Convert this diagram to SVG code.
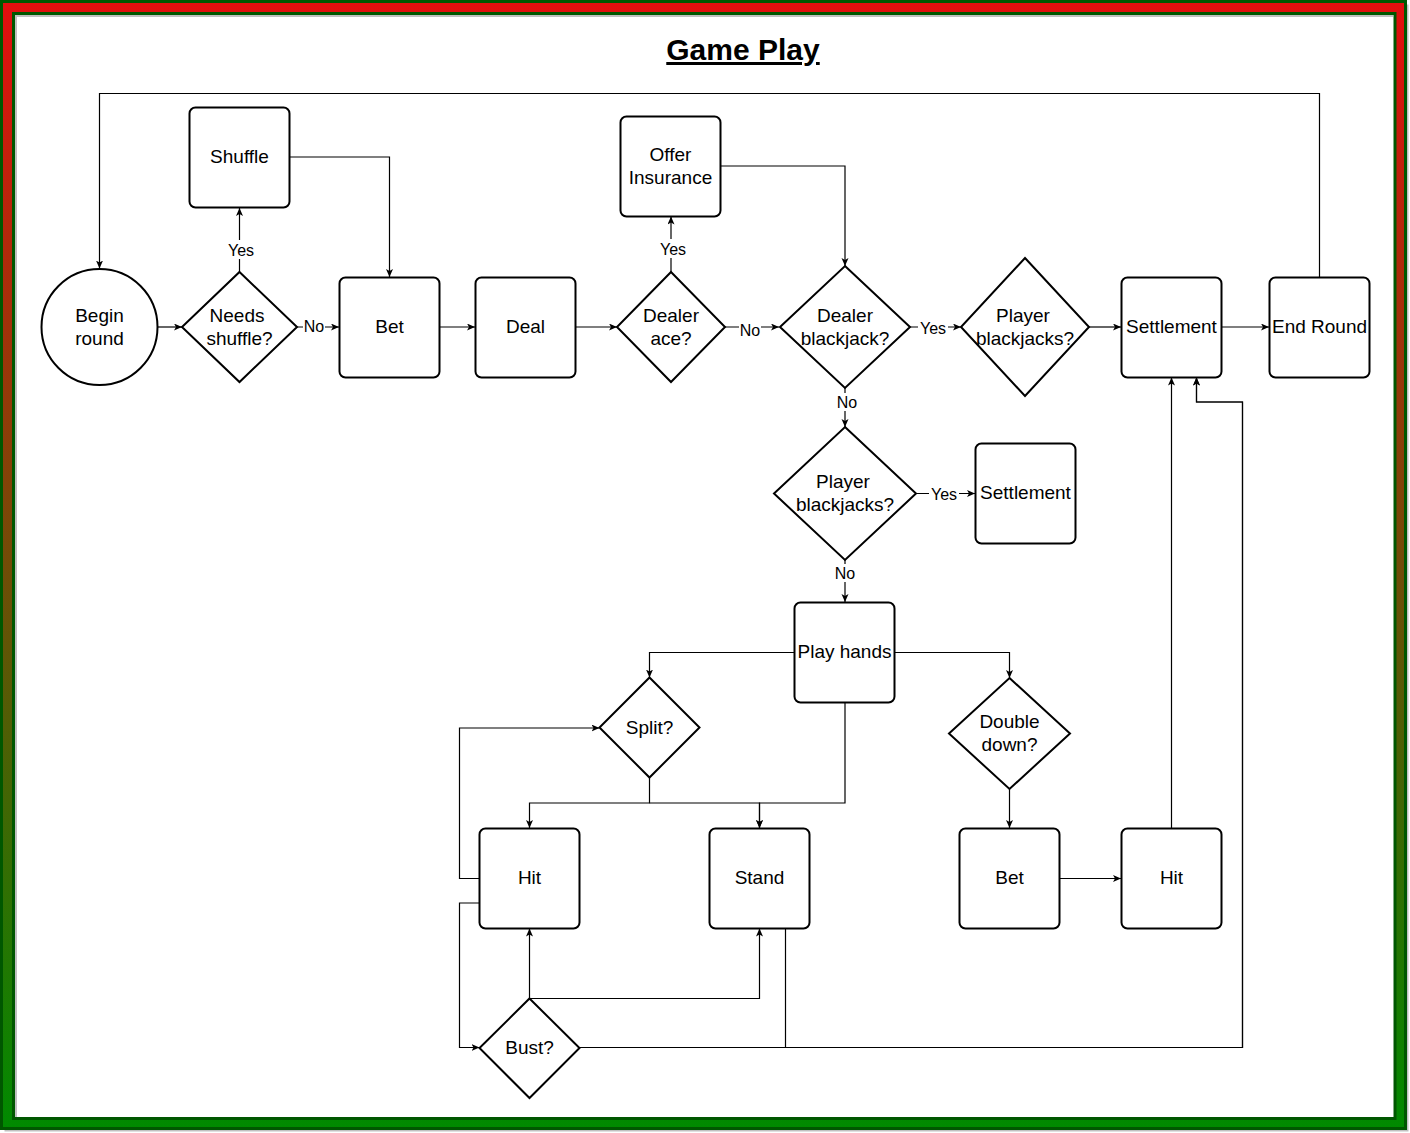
<svg xmlns="http://www.w3.org/2000/svg" width="1410" height="1133" viewBox="0 0 1410 1133">
<style>
.n{fill:#fff;stroke:#000;stroke-width:2}
.t{font-family:"Liberation Sans",Arial,sans-serif;font-size:19px;fill:#000;text-anchor:middle}
.l{font-family:"Liberation Sans",Arial,sans-serif;font-size:16px;fill:#000;text-anchor:middle}
.e{fill:none;stroke:#000;stroke-width:1.2}
.lb{fill:#fff}
</style>
<defs>
<linearGradient id="bg" x1="0" y1="0" x2="0" y2="1">
<stop offset="0" stop-color="#e30e0e"/>
<stop offset="1" stop-color="#008a00"/>
</linearGradient>
<marker id="a" markerUnits="userSpaceOnUse" markerWidth="10" markerHeight="10" refX="8" refY="3.5" orient="auto">
<path d="M0,0 L8,3.5 L0,7 L2,3.5 Z" fill="#000"/>
</marker>
</defs>
<g id="frame">
<rect x="4.5" y="4.5" width="1404" height="1127" fill="#c0c0c0"/>
<rect x="1.5" y="1.5" width="1404" height="1127" fill="url(#bg)" stroke="#005700" stroke-width="3"/>
<rect x="13.5" y="13.5" width="1381.5" height="1105" fill="#fff" stroke="#005700" stroke-width="3"/>
<path d="M16,1117 L16,16 L1393,16" fill="none" stroke="#c0c0c0" stroke-width="2"/>
</g>
<g id="title">
<text x="743" y="60" font-family="'Liberation Sans',Arial,sans-serif" font-size="30" font-weight="bold" text-anchor="middle" text-decoration="underline">Game Play</text>
</g>
<g id="connectors">
<path class="e" d="M157.5,327 H182" marker-end="url(#a)"/>
<path class="e" d="M239.5,272 V208" marker-end="url(#a)"/>
<path class="e" d="M297,327 H339" marker-end="url(#a)"/>
<path class="e" d="M289.5,157 H389.5 V277" marker-end="url(#a)"/>
<path class="e" d="M439.5,327 H475" marker-end="url(#a)"/>
<path class="e" d="M575.5,327 H617" marker-end="url(#a)"/>
<path class="e" d="M671,272 V216.5" marker-end="url(#a)"/>
<path class="e" d="M725,327 H779" marker-end="url(#a)"/>
<path class="e" d="M720.5,166 H845 V266" marker-end="url(#a)"/>
<path class="e" d="M910,327 H961" marker-end="url(#a)"/>
<path class="e" d="M1089,327 H1121" marker-end="url(#a)"/>
<path class="e" d="M1221.5,327 H1269" marker-end="url(#a)"/>
<path class="e" d="M1319.5,277 V93.5 H99.5 V268.5" marker-end="url(#a)"/>
<path class="e" d="M845,388 V427" marker-end="url(#a)"/>
<path class="e" d="M916,493.5 H975" marker-end="url(#a)"/>
<path class="e" d="M845,560 V602" marker-end="url(#a)"/>
<path class="e" d="M794,652.5 H649.5 V677.5" marker-end="url(#a)"/>
<path class="e" d="M895,652.5 H1009.5 V678" marker-end="url(#a)"/>
<path class="e" d="M649.5,778 V803 H529.5 V828" marker-end="url(#a)"/>
<path class="e" d="M649.5,803 H759.5 V828" marker-end="url(#a)"/>
<path class="e" d="M845,702 V803 H759.5 V828" marker-end="url(#a)"/>
<path class="e" d="M479.5,878.5 H459.5 V728 H599.5" marker-end="url(#a)"/>
<path class="e" d="M479.5,903 H459.5 V1047.5 H479.5" marker-end="url(#a)"/>
<path class="e" d="M529.5,998.5 V928.5" marker-end="url(#a)"/>
<path class="e" d="M529.5,998.5 H759.5 V928.5" marker-end="url(#a)"/>
<path class="e" d="M579.5,1047.5 H1242.5 V402 H1196.5 V377.5" marker-end="url(#a)"/>
<path class="e" d="M785.5,928.5 V1047.5 H1242.5 V402 H1196.5 V377.5" marker-end="url(#a)"/>
<path class="e" d="M1009.5,789 V828" marker-end="url(#a)"/>
<path class="e" d="M1059.5,878.5 H1121" marker-end="url(#a)"/>
<path class="e" d="M1171.5,828 V377.5" marker-end="url(#a)"/>
</g>
<g id="edge-labels">
<rect class="lb" x="226" y="240" width="30" height="19"/><text class="l" x="241" y="256">Yes</text>
<rect class="lb" x="303" y="317" width="22" height="18"/><text class="l" x="314" y="332">No</text>
<rect class="lb" x="658" y="239" width="30" height="19"/><text class="l" x="673" y="255">Yes</text>
<rect class="lb" x="739" y="321" width="22" height="18"/><text class="l" x="750" y="336">No</text>
<rect class="lb" x="918" y="319" width="30" height="18"/><text class="l" x="933" y="334">Yes</text>
<rect class="lb" x="836" y="393" width="22" height="18"/><text class="l" x="847" y="408">No</text>
<rect class="lb" x="929" y="485" width="30" height="18"/><text class="l" x="944" y="500">Yes</text>
<rect class="lb" x="834" y="564" width="22" height="18"/><text class="l" x="845" y="579">No</text>
</g>
<g id="begin-round"><circle class="n" cx="99.5" cy="327" r="58"/><text class="t" x="99.5" y="322">Begin</text><text class="t" x="99.5" y="345">round</text></g>
<g id="needs-shuffle"><path class="n" d="M239.5,272 L297,327 L239.5,382 L182,327 Z"/><text class="t" x="237" y="322">Needs</text><text class="t" x="239.5" y="345">shuffle?</text></g>
<g id="shuffle"><rect class="n" x="189.5" y="107.5" width="100" height="100" rx="6"/><text class="t" x="239.5" y="163">Shuffle</text></g>
<g id="bet"><rect class="n" x="339.5" y="277.5" width="100" height="100" rx="6"/><text class="t" x="389.5" y="333">Bet</text></g>
<g id="deal"><rect class="n" x="475.5" y="277.5" width="100" height="100" rx="6"/><text class="t" x="525.5" y="333">Deal</text></g>
<g id="dealer-ace"><path class="n" d="M671,272 L725,327 L671,382 L617,327 Z"/><text class="t" x="671" y="322">Dealer</text><text class="t" x="671" y="345">ace?</text></g>
<g id="offer-insurance"><rect class="n" x="620.5" y="116.5" width="100" height="100" rx="6"/><text class="t" x="670.5" y="161">Offer</text><text class="t" x="670.5" y="184">Insurance</text></g>
<g id="dealer-blackjack"><path class="n" d="M845,266 L910,327 L845,388 L780,327 Z"/><text class="t" x="845" y="322">Dealer</text><text class="t" x="845" y="345">blackjack?</text></g>
<g id="player-blackjacks-1"><path class="n" d="M1025,258 L1089,327 L1025,396 L961,327 Z"/><text class="t" x="1023" y="322">Player</text><text class="t" x="1025" y="345">blackjacks?</text></g>
<g id="settlement-1"><rect class="n" x="1121.5" y="277.5" width="100" height="100" rx="6"/><text class="t" x="1171.5" y="333">Settlement</text></g>
<g id="end-round"><rect class="n" x="1269.5" y="277.5" width="100" height="100" rx="6"/><text class="t" x="1319.5" y="333">End Round</text></g>
<g id="player-blackjacks-2"><path class="n" d="M845,427 L916,493.5 L845,560 L774,493.5 Z"/><text class="t" x="843" y="488">Player</text><text class="t" x="845" y="511">blackjacks?</text></g>
<g id="settlement-2"><rect class="n" x="975.5" y="443.5" width="100" height="100" rx="6"/><text class="t" x="1025.5" y="499">Settlement</text></g>
<g id="play-hands"><rect class="n" x="794.5" y="602.5" width="100" height="100" rx="6"/><text class="t" x="844.5" y="658">Play hands</text></g>
<g id="split"><path class="n" d="M649.5,677.5 L699.5,727.5 L649.5,777.5 L599.5,727.5 Z"/><text class="t" x="649.5" y="734">Split?</text></g>
<g id="double-down"><path class="n" d="M1009.5,678 L1070,733.5 L1009.5,789 L949,733.5 Z"/><text class="t" x="1009.5" y="728">Double</text><text class="t" x="1009.5" y="751">down?</text></g>
<g id="hit-1"><rect class="n" x="479.5" y="828.5" width="100" height="100" rx="6"/><text class="t" x="529.5" y="884">Hit</text></g>
<g id="stand"><rect class="n" x="709.5" y="828.5" width="100" height="100" rx="6"/><text class="t" x="759.5" y="884">Stand</text></g>
<g id="bet-2"><rect class="n" x="959.5" y="828.5" width="100" height="100" rx="6"/><text class="t" x="1009.5" y="884">Bet</text></g>
<g id="hit-2"><rect class="n" x="1121.5" y="828.5" width="100" height="100" rx="6"/><text class="t" x="1171.5" y="884">Hit</text></g>
<g id="bust"><path class="n" d="M529.5,998.5 L579.5,1048 L529.5,1098 L479.5,1048 Z"/><text class="t" x="529.5" y="1054">Bust?</text></g>
</svg>
